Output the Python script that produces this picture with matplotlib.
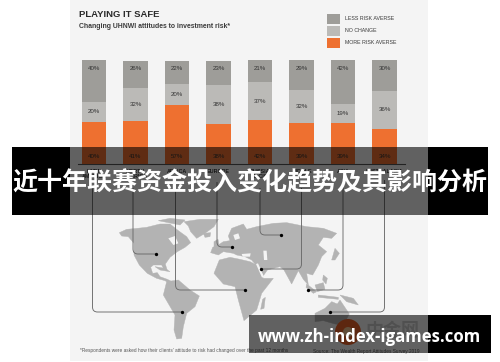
import matplotlib
matplotlib.use("Agg")
import matplotlib.pyplot as plt
from matplotlib.patches import Rectangle, Polygon, PathPatch, Circle
from matplotlib.path import Path
import numpy as np

# ---- data ----
regions = ["LATIN\nAMERICA", "NORTH\nAMERICA", "AFRICA", "EUROPE", "RUSSIA\n& CIS", "MIDDLE\nEAST", "ASIA", "AUSTRALASIA"]
more_averse = [40, 41, 57, 38, 42, 39, 39, 34]
no_change = [20, 32, 20, 38, 37, 32, 19, 36]
less_averse = [40, 26, 22, 23, 21, 29, 42, 30]
legend_labels = ["LESS RISK AVERSE", "NO CHANGE", "MORE RISK AVERSE"]
title = "PLAYING IT SAFE"
subtitle = "Changing UHNWI attitudes to investment risk*"
footnote = "*Respondents were asked how their clients’ attitude to risk had changed over the past 12 months"
source = "Source: The Wealth Report Attitudes Survey 2019"
banner = "近十年联赛资金投入变化趋势及其影响分析"
site = "www.zh-index-igames.com"

C_LESS, C_NONE, C_MORE = "#9e9d99", "#bbbab7", "#ee7030"
C_LAND = "#b3b3b3"
C_PANEL = "#f4f4f4"
C_TXT = "#3a3a3a"

W, H = 500, 362
fig = plt.figure(figsize=(W / 100, H / 100), dpi=100, facecolor="white")
plt.rcParams["font.family"] = ["Liberation Sans", "DejaVu Sans"]

def px_axes(z):
    a = fig.add_axes([0, 0, 1, 1], zorder=z)
    a.set_xlim(0, W); a.set_ylim(H, 0); a.axis("off"); a.patch.set_alpha(0)
    return a

bg = px_axes(0)
top = px_axes(2)

# banner bases and panel
bg.add_patch(Rectangle((12, 147), 476, 68, color="black", lw=0, zorder=1))
bg.add_patch(Rectangle((249, 315), 242, 38, color="black", lw=0, zorder=1))
bg.add_patch(Rectangle((70, 0), 358, 360.5, color=C_PANEL, lw=0, zorder=2))

# map outlines, in the 3x frame of the source crop
land = [
    # North America
    [(178,68),(200,58),(222,56),(260,52),(300,42),(330,42),(355,62),(380,80),(392,98),(375,112),(352,125),(330,142),(316,162),(322,182),(312,178),(305,165),(280,165),(272,172),(278,190),(292,188),(300,200),(322,208),(350,222),(338,226),(315,212),(290,205),(262,190),(238,165),(222,135),(222,100),(205,80),(185,78)],
    # Greenland
    [(372,35),(420,28),(475,28),(462,50),(435,70),(410,85),(392,65),(385,48)],
    # Arctic islands
    [(295,32),(330,25),(375,30),(360,45),(335,40)],
    # South America
    [(320,215),(355,210),(390,240),(418,258),(405,290),(380,310),(370,350),(365,385),(350,387),(342,360),(345,315),(310,255)],
    # Africa
    [(478,150),(510,142),(540,148),(570,155),(590,165),(610,205),(640,205),(605,250),(590,300),(552,332),(535,270),(525,230),(490,222),(462,190)],
    # Eurasia
    [(452,128),(458,112),(475,105),(490,95),(510,92),(505,78),(515,55),(550,42),(560,58),(590,50),(640,40),(680,38),(740,50),(790,55),(830,70),(815,85),(790,82),(775,105),(800,125),(785,140),(775,165),(758,195),(740,190),(745,225),(730,208),(715,182),(695,222),(672,180),(660,170),(622,180),(603,207),(592,170),(575,150),(555,140),(530,135),(520,130),(490,125),(475,135)],
    # Australia
    [(765,310),(795,295),(815,275),(832,282),(840,270),(868,312),(850,345),(825,342),(790,332),(765,335)],
    # islands
    [(740,222),(770,245),(760,250),(738,232)],
    [(765,225),(790,218),(795,238),(772,245)],
    [(840,255),(880,265),(895,285),(860,275)],
    [(775,255),(835,262),(835,268),(775,262)],
    [(608,268),(616,262),(612,295),(602,298)],
    [(825,115),(838,130),(825,150),(815,150)],
    [(790,195),(802,205),(798,222),(788,210)],
    [(462,95),(474,88),(478,108),(462,112)],
    [(430,70),(452,68),(450,80),(435,82)],
    [(285,170),(315,175),(330,185),(300,180)],
]
water = [
    [(325,85),(345,78),(355,100),(340,105)],      # Hudson Bay
    [(545,132),(572,130),(570,140),(548,140)],    # Black Sea
    [(610,122),(620,122),(622,150),(612,150)],    # Caspian
    [(588,162),(594,160),(612,200),(606,203)],    # Red Sea
    [(520,75),(535,70),(540,85),(525,90)],        # Baltic
]
to_px = lambda poly: [(60 + x / 3, 210 + y / 3) for x, y in poly]
for poly in land:
    bg.add_patch(Polygon(to_px(poly), closed=True, fc=C_LAND, ec=C_LAND, lw=0.3, zorder=3))
for poly in water:
    bg.add_patch(Polygon(to_px(poly), closed=True, fc=C_PANEL, ec="none", zorder=3.5))

# leaders: (column x, bend y, dot x)
leaders = [(92.5, 312, 182), (133, 254, 155.5), (175.5, 290, 245), (217, 247, 231.5),
           (260, 235, 281), (301.5, 269, 261), (343, 290, 308), (384.5, 312, 330)]
leader_start = [188, 188, 180, 182, 188, 188, 180, 180]
for (x, y, dx), y0 in zip(leaders, leader_start):
    s = 1 if dx > x else -1
    r = 5
    p = Path([(x, y0), (x, y - r), (x, y), (x + s * r, y), (dx, y)],
             [Path.MOVETO, Path.LINETO, Path.CURVE3, Path.CURVE3, Path.LINETO])
    bg.add_patch(PathPatch(p, fc="none", ec="#6a6a6a", lw=0.65, zorder=4))
    bg.plot([dx], [y], "o", ms=2.4, color="black", mew=0, zorder=5)

# region labels and baseline
centers = 94 + 41.5 * np.arange(len(regions))
for cx, r in zip(centers, regions):
    bg.text(cx, 169, r, ha="center", va="top", fontsize=3.9, fontweight="bold", color=C_TXT, linespacing=1.1, zorder=5)
bg.plot([78, 405], [164, 164], color="#555555", lw=0.8, zorder=5)

# heading and legend
bg.text(79, 14.5, title, fontsize=6.8, fontweight="bold", color="#2a2a2a", va="center", zorder=5)
bg.text(79, 26, subtitle, fontsize=4.95, fontweight="bold", color="#3c3c3c", va="center", zorder=5)
for lab, c, (y0, h) in zip(legend_labels, [C_LESS, C_NONE, C_MORE], [(13.5, 10.5), (26, 10), (38, 10)]):
    bg.add_patch(Rectangle((327, y0), 12.5, h, color=c, lw=0, zorder=5))
    bg.text(345, y0 + h / 2, lab, fontsize=3.75, color=C_TXT, va="center", zorder=5)

# footer
bg.text(80, 350.5, footnote, fontsize=3.4, color="#555555", va="center", zorder=5)
bg.text(313, 351, source, fontsize=3.4, color="#555555", va="center", zorder=5)

# watermark under the translucent band
bg.add_patch(Circle((348, 332), 13, fc="#e8622a", ec="none", zorder=6))
bg.add_patch(Circle((348, 332), 5, fc="#f0c090", ec="none", zorder=7))
bg.text(392.5, 330, "中金网", family=["Noto Sans CJK SC"], fontsize=13, fontweight="bold", color="#c8c8c8", ha="center", va="center", zorder=6)

# stacked bars through a real data axis
ax = fig.add_axes([0, 1 - 164 / H, 1, 104 / H], zorder=1)
ax.patch.set_alpha(0)
ax.axis("off")
ax.set_ylim(0, 100)
ax.set_xlim((0 - 94) / 41.5, (W - 94) / 41.5)
idx = np.arange(len(regions))
more = np.array(more_averse); none = np.array(no_change); less = np.array(less_averse)
bw = 24.5 / 41.5
ax.bar(idx, more, bw, color=C_MORE, lw=0)
ax.bar(idx, none, bw, bottom=more, color=C_NONE, lw=0)
ax.bar(idx, less, bw, bottom=more + none, color=C_LESS, lw=0)
for i in idx:
    ax.text(i, 7.5, f"{more[i]}%", ha="center", va="center", fontsize=4.4, color="#333333")
    ax.text(i, more[i] + none[i] / 2, f"{none[i]}%", ha="center", va="center", fontsize=4.4, color="#333333")
    ax.text(i, 100 - 8.6, f"{less[i]}%", ha="center", va="center", fontsize=4.4, color="#333333")

# translucent parts of the bands (only over the panel)
top.add_patch(Rectangle((70, 147), 358, 68, fc="black", alpha=0.6, lw=0))
top.add_patch(Rectangle((249, 315), 179, 38, fc="black", alpha=0.6, lw=0))
top.text(250, 183, banner, family=["Noto Sans CJK SC", "DejaVu Sans"], fontsize=18, fontweight="bold",
         color="white", ha="center", va="center")
top.text(369.5, 337, site, family=["Open Sans", "DejaVu Sans"], fontsize=12.05, fontweight="bold",
         color="white", ha="center", va="center")

fig.savefig("out.png", dpi=100, facecolor="white")
